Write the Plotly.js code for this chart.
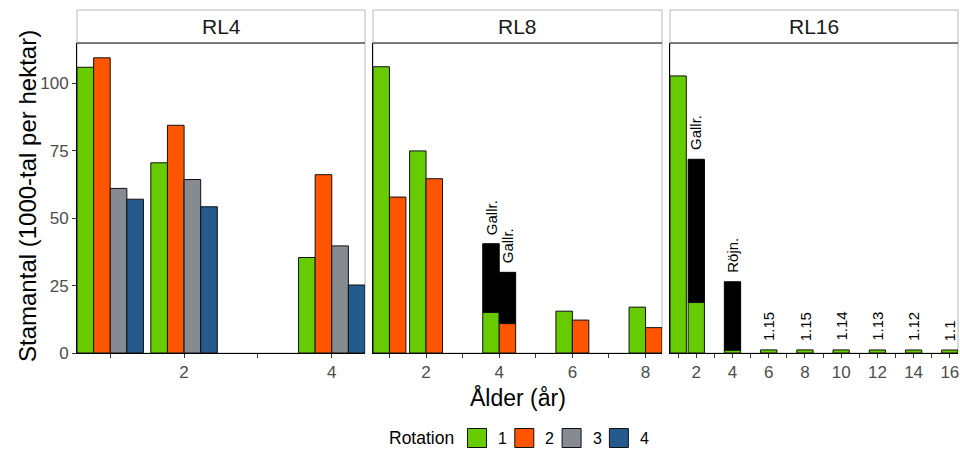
<!DOCTYPE html>
<html><head><meta charset="utf-8">
<script src="https://cdn.plot.ly/plotly-3.0.1.min.js"></script>
<style>html,body{margin:0;padding:0;background:#fff}#chart{width:960px;height:449px}</style>
</head><body><div id="chart"></div>
<script>
// ---- data ----
const rotations = ['1', '2', '3', '4'];
const rotationColors = ['#66CC00', '#FF5500', '#868B92', '#245A8C'];
const panelNames = ['RL4', 'RL8', 'RL16'];

const rl4Ages = [1, 2, 4];
const rl4Rot1 = [105.9, 70.5, 35.4];
const rl4Rot2 = [109.4, 84.4, 66.1];
const rl4Rot3 = [61.0, 64.3, 39.7];
const rl4Rot4 = [57.0, 54.2, 25.2];

const rl8Ages = [1, 2, 4, 6, 8];
const rl8Rot1 = [106.1, 74.9, 15.0, 15.5, 17.0];
const rl8Rot2 = [57.8, 64.6, 10.9, 12.2, 9.4];
const rl8Rot1Before = [null, null, 40.5, null, null];
const rl8Rot2Before = [null, null, 29.9, null, null];
const rl8Rot1Labels = ['', '', 'Gallr.', '', ''];
const rl8Rot2Labels = ['', '', 'Gallr.', '', ''];

const rl16Ages = [1, 2, 4, 6, 8, 10, 12, 14, 16];
const rl16Rot1 = [102.7, 18.7, 1.0, 1.15, 1.15, 1.14, 1.13, 1.12, 1.1];
const rl16Rot1Before = [null, 71.8, 26.4, null, null, null, null, null, null];
const rl16Rot1Labels = ['', 'Gallr.', 'Röjn.', '1.15', '1.15', '1.14', '1.13', '1.12', '1.1'];

const yTicks = [0, 25, 50, 75, 100];
const xTitle = 'Ålder (år)';
const yTitle = 'Stamantal (1000-tal per hektar)';
const legendTitle = 'Rotation';

// ---- build ----
const panels = [
  {name: panelNames[0], ages: rl4Ages, series: [rl4Rot1, rl4Rot2, rl4Rot3, rl4Rot4], before: [null, null, null, null], labels: [null, null, null, null]},
  {name: panelNames[1], ages: rl8Ages, series: [rl8Rot1, rl8Rot2], before: [rl8Rot1Before, rl8Rot2Before], labels: [rl8Rot1Labels, rl8Rot2Labels]},
  {name: panelNames[2], ages: rl16Ages, series: [rl16Rot1], before: [rl16Rot1Before], labels: [rl16Rot1Labels]}
];

const L = 77, R = 958, T = 43, B = 353;
const PW = R - L, PH = B - T;
const px = v => (v - L) / PW;
const py = v => (B - v) / PH;
const domains = [[px(77), px(365)], [px(373), px(662)], [px(670), px(958)]];

const traces = [];
const annotations = [];
const shapes = [];
const font = 'Liberation Sans, Arial, sans-serif';
const layout = {
  width: 960, height: 449,
  margin: {l: L, r: 960 - R, t: T, b: 449 - B},
  paper_bgcolor: '#fff', plot_bgcolor: '#fff',
  barmode: 'overlay', showlegend: false,
  font: {family: font, color: '#000'},
};

const yMax = 114.9;
panels.forEach((p, k) => {
  const sfx = k === 0 ? '' : String(k + 1);
  const xa = 'x' + sfx, ya = 'y' + sfx;
  const n = p.series.length;
  const w = 0.9 / n;
  p.series.forEach((vals, i) => {
    const off = -0.45 + i * w;
    const bef = p.before[i];
    if (bef) {
      const xs = [], ys = [], bs = [];
      p.ages.forEach((a, j) => { if (bef[j] != null) { xs.push(a); ys.push(bef[j] - vals[j]); bs.push(vals[j]); } });
      traces.push({type: 'bar', x: xs, y: ys, base: bs, offset: off, width: w, xaxis: xa, yaxis: ya,
        marker: {color: '#000', line: {color: '#000', width: 1}}, hoverinfo: 'skip'});
    }
    traces.push({type: 'bar', x: p.ages, y: vals, offset: off, width: w, xaxis: xa, yaxis: ya,
      name: rotations[i], marker: {color: rotationColors[i], line: {color: '#111', width: 1}}});
    const labs = p.labels[i];
    if (labs) {
      labs.forEach((t, j) => {
        if (!t) return;
        const top = (bef && bef[j] != null) ? bef[j] : vals[j];
        annotations.push({xref: xa, yref: ya, x: p.ages[j] + off + w / 2, y: top, text: t,
          textangle: -90, xanchor: 'center', yanchor: 'bottom', yshift: 7, showarrow: false,
          font: {size: 15, color: '#000', family: font}});
      });
    }
  });
  const maxAge = p.ages[p.ages.length - 1];
  const tv = [], tt = [];
  for (let v = 1; v <= maxAge; v++) { tv.push(v); tt.push(v % 2 === 0 ? String(v) : ''); }
  layout['xaxis' + sfx] = {
    domain: domains[k], anchor: ya, range: [0.55, maxAge + 0.45],
    tickmode: 'array', tickvals: tv, ticktext: tt, ticks: 'outside', ticklen: 4, tickcolor: '#333', tickwidth: 1,
    showline: true, linecolor: '#000', linewidth: 1, showgrid: false, zeroline: false,
    tickfont: {size: 17, color: '#4d4d4d', family: font}, fixedrange: true
  };
  layout['yaxis' + sfx] = {
    domain: [0, 1], anchor: xa, range: [0, yMax],
    tickmode: 'array', tickvals: yTicks, ticks: k === 0 ? 'outside' : '', ticklen: 4, tickcolor: '#333',
    showticklabels: k === 0, showline: true, linecolor: '#000', linewidth: 1, showgrid: false, zeroline: false,
    tickfont: {size: 17, color: '#4d4d4d', family: font}, fixedrange: true
  };
  if (k > 0) layout['yaxis' + sfx].matches = 'y';

  // panel border
  shapes.push({type: 'rect', xref: 'paper', yref: 'paper', x0: domains[k][0], x1: domains[k][1], y0: 0, y1: 1,
    line: {color: '#b8b8b8', width: 1}, layer: 'below'});
  // strip
  shapes.push({type: 'rect', xref: 'paper', yref: 'paper', x0: domains[k][0], x1: domains[k][1], y0: 1, y1: py(10),
    fillcolor: '#fff', line: {color: '#b8b8b8', width: 1}});
  shapes.push({type: 'line', xref: 'paper', yref: 'paper', x0: domains[k][0], x1: domains[k][1], y0: 1, y1: 1,
    line: {color: '#222', width: 1.2}});
  annotations.push({xref: 'paper', yref: 'paper', x: (domains[k][0] + domains[k][1]) / 2, y: py(26.5), text: p.name,
    xanchor: 'center', yanchor: 'middle', showarrow: false, font: {size: 21, color: '#1a1a1a', family: font}});
});

// axis titles
annotations.push({xref: 'paper', yref: 'paper', x: px(27), y: py(196), text: yTitle, textangle: -90,
  xanchor: 'center', yanchor: 'middle', showarrow: false, font: {size: 24, color: '#000', family: font}});
annotations.push({xref: 'paper', yref: 'paper', x: px(517.5), y: py(397), text: xTitle,
  xanchor: 'center', yanchor: 'middle', showarrow: false, font: {size: 23, color: '#000', family: font}});

// legend (drawn from rotation arrays)
const legY = 438;
annotations.push({xref: 'paper', yref: 'paper', x: px(456), y: py(legY), text: legendTitle, xanchor: 'right', yanchor: 'middle',
  showarrow: false, font: {size: 17.5, color: '#000', family: font}});
rotations.forEach((r, i) => {
  const cx = 477 + i * 47.3;
  shapes.push({type: 'rect', xref: 'paper', yref: 'paper', x0: px(cx - 9.5), x1: px(cx + 9.5), y0: py(legY - 9.5), y1: py(legY + 9.5),
    fillcolor: rotationColors[i], line: {color: '#111', width: 1}});
  annotations.push({xref: 'paper', yref: 'paper', x: px(cx + 19), y: py(legY), text: r, xanchor: 'left', yanchor: 'middle',
    showarrow: false, font: {size: 16, color: '#000', family: font}});
});

layout.shapes = shapes;
layout.annotations = annotations;
Plotly.newPlot('chart', traces, layout, {displayModeBar: false, staticPlot: true});
</script>
</body></html>
